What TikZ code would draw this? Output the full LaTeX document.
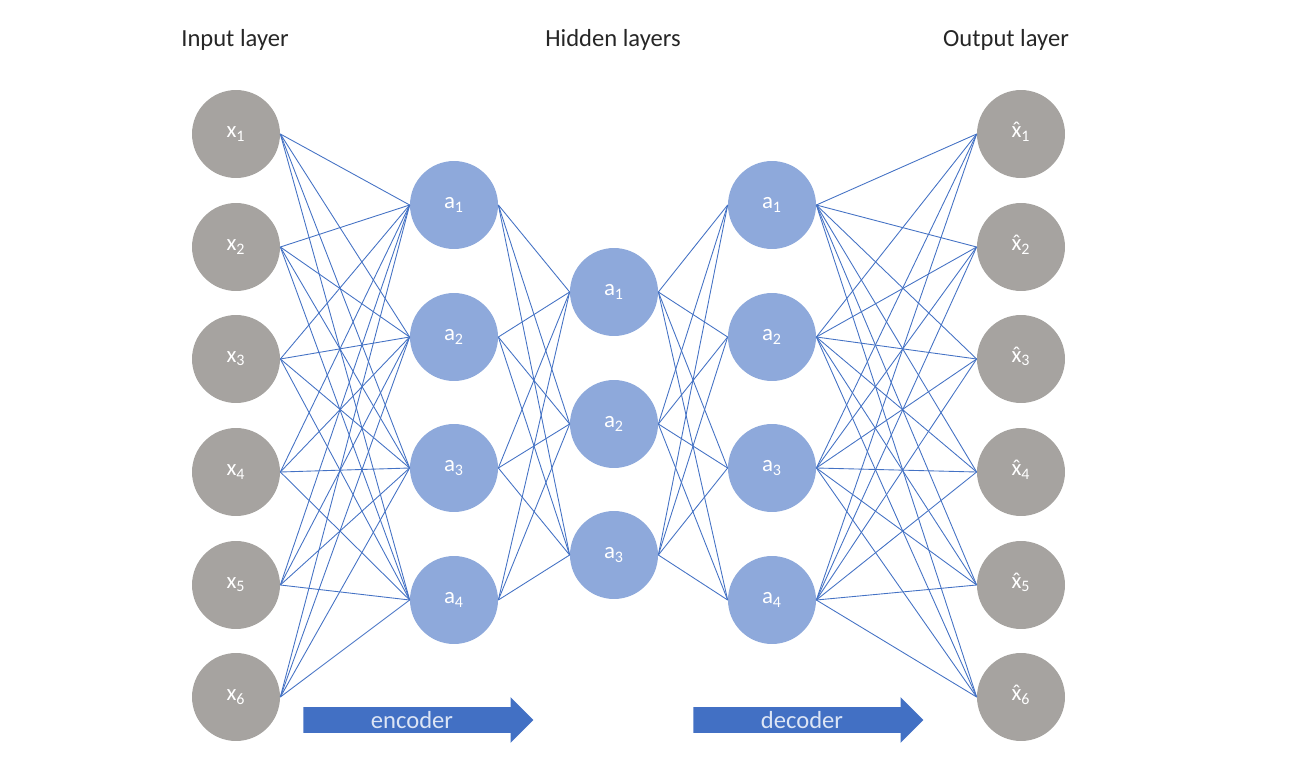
\documentclass[tikz,border=0pt]{standalone}
\usepackage{fontspec}
\setmainfont{Carlito}
\usetikzlibrary{shapes.arrows}
\definecolor{nodegrey}{RGB}{166,163,160}
\definecolor{nodeblue}{RGB}{142,169,219}
\definecolor{linkblue}{RGB}{68,114,196}
\definecolor{arrowfill}{RGB}{66,112,196}
\definecolor{arrowtext}{RGB}{220,229,245}
\newcommand{\xhat}{{\ooalign{x\cr\hidewidth\char"02C6\hidewidth\cr}}}

\begin{document}
\begin{tikzpicture}[x=0.02cm,y=-0.02cm,
  neuron/.style={circle,minimum size=1.76cm,inner sep=0pt,text=white,font=\fontsize{13}{15}\selectfont},
  link/.style={linkblue,line width=0.5pt},
  title/.style={font=\fontsize{14}{16}\selectfont,text=black!85},
  bigarrow/.style={single arrow,fill=arrowfill,text=arrowtext,draw=none,
    single arrow head extend=0.2cm,minimum height=4.6cm,inner xsep=4pt,inner ysep=2.2pt,
    font=\fontsize{14}{16}\selectfont}]
\useasboundingbox (0,0) rectangle (1299,771);
% layer titles
\node[title] (tin) at (235,40) {Input layer};
\node[title] (thid) at (613,40) {Hidden layers};
\node[title] (tout) at (1006,40) {Output layer};
% input and output layers
\foreach \i/\y in {1/134,2/247,3/359,4/472,5/585,6/697} {
  \node[neuron,fill=nodegrey] (x\i) at (236,\y) {x\textsubscript{\i}};
  \node[neuron,fill=nodegrey] (xh\i) at (1021,\y) {\xhat\textsubscript{\i}};
}
% hidden layers
\foreach \i/\y in {1/205,2/337,3/468,4/600} {
  \node[neuron,fill=nodeblue] (e\i) at (454,\y) {a\textsubscript{\i}};
  \node[neuron,fill=nodeblue] (d\i) at (772,\y) {a\textsubscript{\i}};
}
\foreach \i/\y in {1/292,2/424,3/555}
  \node[neuron,fill=nodeblue] (c\i) at (614,\y) {a\textsubscript{\i}};
% connections
\foreach \i in {1,...,6} \foreach \j in {1,...,4} {
  \draw[link] (x\i.east) -- (e\j.west);
  \draw[link] (d\j.east) -- (xh\i.west);
}
\foreach \i in {1,...,4} \foreach \j in {1,...,3} {
  \draw[link] (e\i.east) -- (c\j.west);
  \draw[link] (c\j.east) -- (d\i.west);
}
% encoder / decoder arrows
\node[bigarrow] (enc) at (412,720) {encoder};
\node[bigarrow] (dec) at (802,720) {decoder};
\end{tikzpicture}
\end{document}
